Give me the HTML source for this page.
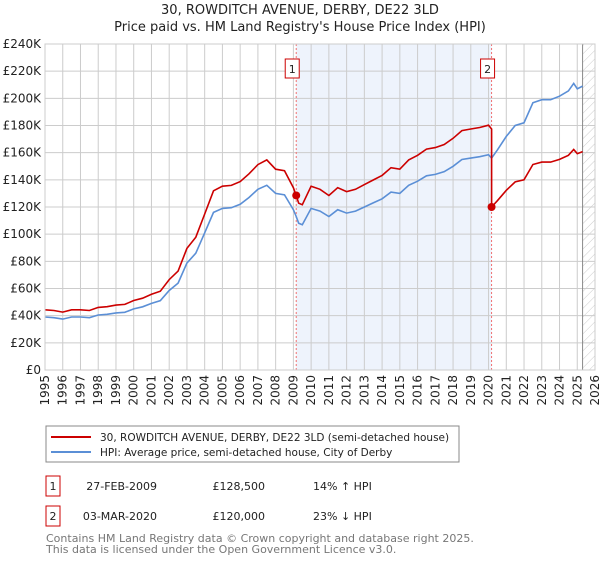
<!DOCTYPE html>
<html><head><meta charset="utf-8">
<style>
body{margin:0;background:#fff;font-family:"DejaVu Sans","Liberation Sans",sans-serif;}
svg text{font-family:"DejaVu Sans","Liberation Sans",sans-serif;}
</style></head>
<body>
<svg id="chart" width="600" height="560" viewBox="0 0 600 560">
<defs>
<pattern id="hatch" width="6" height="6" patternUnits="userSpaceOnUse" patternTransform="rotate(45)">
<line x1="0" y1="0" x2="0" y2="6" stroke="#ccc" stroke-width="1"/>
</pattern>
</defs>
<text x="300" y="14" text-anchor="middle" font-size="13" fill="#222">30, ROWDITCH AVENUE, DERBY, DE22 3LD</text>
<text x="300" y="31" text-anchor="middle" font-size="13" fill="#222">Price paid vs. HM Land Registry's House Price Index (HPI)</text>
<g id="plot"></g>
<g>
<rect x="46" y="426" width="413" height="36" fill="#fff" stroke="#888"/>
<line x1="51" y1="437" x2="91" y2="437" stroke="#cc0000" stroke-width="2"/>
<text x="100" y="441" font-size="10.5" fill="#222">30, ROWDITCH AVENUE, DERBY, DE22 3LD (semi-detached house)</text>
<line x1="51" y1="452" x2="91" y2="452" stroke="#5b8fd6" stroke-width="2"/>
<text x="100" y="456" font-size="10.5" fill="#222">HPI: Average price, semi-detached house, City of Derby</text>
</g>
<g>
<rect x="46" y="476" width="14" height="20" fill="#fff" stroke="#cc0000"/>
<text x="53" y="490" text-anchor="middle" font-size="11" fill="#222">1</text>
<text x="157" y="490" text-anchor="end" font-size="11" fill="#222">27-FEB-2009</text>
<text x="265" y="490" text-anchor="end" font-size="11" fill="#222">£128,500</text>
<text x="313" y="490" font-size="11" fill="#222">14% ↑ HPI</text>
<rect x="46" y="506" width="14" height="20" fill="#fff" stroke="#cc0000"/>
<text x="53" y="520" text-anchor="middle" font-size="11" fill="#222">2</text>
<text x="157" y="520" text-anchor="end" font-size="11" fill="#222">03-MAR-2020</text>
<text x="265" y="520" text-anchor="end" font-size="11" fill="#222">£120,000</text>
<text x="313" y="520" font-size="11" fill="#222">23% ↓ HPI</text>
</g>
<text x="46" y="542" font-size="11" fill="#777">Contains HM Land Registry data © Crown copyright and database right 2025.</text>
<text x="46" y="553" font-size="11" fill="#777">This data is licensed under the Open Government Licence v3.0.</text>
</svg>
<script>
const hpiYears=[1995,1995.5,1996,1996.5,1997,1997.5,1998,1998.5,1999,1999.5,2000,2000.5,2001,2001.5,2002,2002.5,2003,2003.5,2004,2004.5,2005,2005.5,2006,2006.5,2007,2007.5,2008,2008.5,2009,2009.16,2009.3,2009.5,2010,2010.5,2011,2011.5,2012,2012.5,2013,2013.5,2014,2014.5,2015,2015.5,2016,2016.5,2017,2017.5,2018,2018.5,2019,2019.5,2020,2020.17,2020.5,2021,2021.5,2022,2022.5,2023,2023.5,2024,2024.5,2024.8,2025,2025.3];
const hpiValues=[39,38.5,37.5,39,39,38.5,40.5,41,42,42.5,45,46.5,49,51,58.5,64,78.7,86,101,116,119,119.5,122,127,133,136,130,129,118,113,108,107,119,117,113,118,115.5,117,120,123,126,131,130,136,139,143,144,146,150,155,156,157,158.5,156,162,172,180,182,196.7,199,199,201.6,205.5,211,207,209];
const saleDates=[2009.16,2020.17];
const salePrices=[128.5,120];
const saleLabels=["1","2"];
const yTicks=[0,20,40,60,80,100,120,140,160,180,200,220,240];
const xTicks=[1995,1996,1997,1998,1999,2000,2001,2002,2003,2004,2005,2006,2007,2008,2009,2010,2011,2012,2013,2014,2015,2016,2017,2018,2019,2020,2021,2022,2023,2024,2025,2026];
const dataEndYear=2025.3;

const NS="http://www.w3.org/2000/svg";
const X0=45,X1=595,Y0=370,Y1=44;
const xs=y=>X0+(y-1995)/(2026-1995)*(X1-X0);
const ys=v=>Y0-v/240*(Y0-Y1);
const g=document.getElementById('plot');
function mk(tag,attrs,parent){const e=document.createElementNS(NS,tag);for(const k in attrs)e.setAttribute(k,attrs[k]);(parent||g).appendChild(e);return e;}

let e=mk('rect',{x:xs(saleDates[0]),y:Y1,width:xs(saleDates[1])-xs(saleDates[0]),height:Y0-Y1,fill:'#eef3fc'});


e=mk('rect',{x:xs(dataEndYear),y:Y1,width:X1-xs(dataEndYear),height:Y0-Y1,fill:'url(#hatch)'});



yTicks.forEach(v=>{
 let l=mk('line',{x1:X0,x2:X1,y1:ys(v),y2:ys(v),stroke:'#ccc','stroke-width':1});
 
 
 let t=mk('text',{x:X0-4,y:ys(v)+4,'text-anchor':'end','font-size':12,fill:'#222'});
 t.textContent=v===0?'£0':'£'+v+'K';
 
 
});
xTicks.forEach(yr=>{
 let l=mk('line',{x1:xs(yr),x2:xs(yr),y1:Y1,y2:Y0,stroke:'#ccc','stroke-width':1});
 
 
 let t=mk('text',{x:0,y:0,'font-size':12,fill:'#222','text-anchor':'end',transform:`translate(${xs(yr)+4},${Y0+5}) rotate(-90)`});
 t.textContent=yr;
 
 
});
e=mk('line',{x1:xs(dataEndYear),x2:xs(dataEndYear),y1:Y1,y2:Y0,stroke:'#888','stroke-width':1});



saleDates.forEach((d,i)=>{
 let l=mk('line',{x1:xs(d),x2:xs(d),y1:Y1,y2:Y0,stroke:'#f07070','stroke-width':1,'stroke-dasharray':'2,2'});
 
 
});

let hp=hpiYears.map((y,i)=>`${i?'L':'M'}${xs(y).toFixed(1)},${ys(hpiValues[i]).toFixed(1)}`).join('');
e=mk('path',{d:hp,fill:'none',stroke:'#5b8fd6','stroke-width':1.6});



function hpiAt(d){for(let i=1;i<hpiYears.length;i++){if(hpiYears[i]>=d){const t=(d-hpiYears[i-1])/(hpiYears[i]-hpiYears[i-1]);return hpiValues[i-1]+t*(hpiValues[i]-hpiValues[i-1]);}}return hpiValues[hpiValues.length-1];}
const r1=salePrices[0]/hpiAt(saleDates[0]), r2=salePrices[1]/hpiAt(saleDates[1]);
let pts=[];
hpiYears.forEach((y,i)=>{ if(y<saleDates[1]) pts.push([y,hpiValues[i]*r1]); });
pts.push([saleDates[1],hpiAt(saleDates[1])*r1]);
pts.push([saleDates[1],salePrices[1]]);
hpiYears.forEach((y,i)=>{ if(y>saleDates[1]) pts.push([y,hpiValues[i]*r2]); });
let pp=pts.map((p,i)=>`${i?'L':'M'}${xs(p[0]).toFixed(1)},${ys(p[1]).toFixed(1)}`).join('');
e=mk('path',{d:pp,fill:'none',stroke:'#cc0000','stroke-width':1.6});



saleDates.forEach((d,i)=>{
 let c=mk('circle',{cx:xs(d),cy:ys(salePrices[i]),r:4,fill:'#cc0000'});
 
 
 let b=mk('rect',{x:xs(d)-11,y:59,width:14,height:19,fill:'#fff',stroke:'#cc0000'});
 
 
 let t=mk('text',{x:xs(d)-4,y:73,'text-anchor':'middle','font-size':11,fill:'#222'});
 t.textContent=saleLabels[i];
 
 
});
e=mk('rect',{x:X0,y:Y1,width:X1-X0,height:Y0-Y1,fill:'none',stroke:'#ccc'});


</script>
</body></html>
